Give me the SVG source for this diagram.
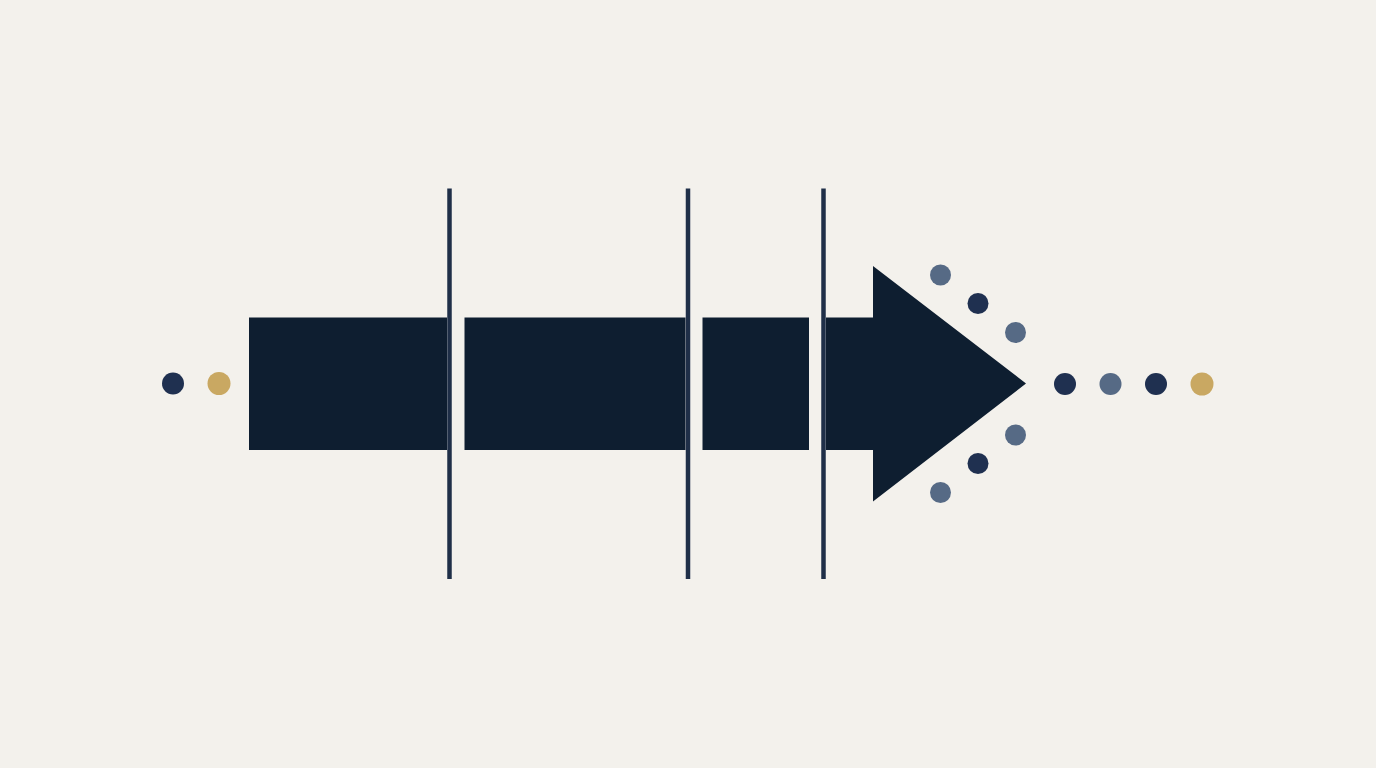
<svg xmlns="http://www.w3.org/2000/svg" width="1376" height="768" viewBox="0 0 1376 768">
<style>
.blk{fill:#0e1e30}
.ln{stroke:#1f2f48;stroke-width:4.5}
.dk{fill:#1f3050}
.gr{fill:#566a85}
.gd{fill:#c9a862}
</style>
<rect width="1376" height="768" fill="#f3f1ec"/>
<g id="blocks">
<rect class="blk" x="249" y="317.5" width="198" height="132.5"/>
<rect class="blk" x="464.5" y="317.5" width="221" height="132.5"/>
<rect class="blk" x="702.5" y="317.5" width="106.5" height="132.5"/>
<polygon class="blk" points="826,317.5 873,317.5 873,266 1026,383.5 873,501.5 873,450 826,450"/>
</g>
<g id="lines">
<line class="ln" x1="449.5" y1="188.5" x2="449.5" y2="579"/>
<line class="ln" x1="688" y1="188.5" x2="688" y2="579"/>
<line class="ln" x1="823.5" y1="188.5" x2="823.5" y2="579"/>
</g>
<g id="dots">
<circle class="dk" cx="173" cy="383.5" r="11"/>
<circle class="gd" cx="219" cy="383.5" r="11.5"/>
<circle class="gr" cx="940.5" cy="275" r="10.5"/>
<circle class="dk" cx="978" cy="303.5" r="10.5"/>
<circle class="gr" cx="1015.5" cy="332.5" r="10.5"/>
<circle class="gr" cx="1015.5" cy="435" r="10.5"/>
<circle class="dk" cx="978" cy="463.5" r="10.5"/>
<circle class="gr" cx="940.5" cy="492.5" r="10.5"/>
<circle class="dk" cx="1065" cy="384" r="11"/>
<circle class="gr" cx="1110.5" cy="384" r="11"/>
<circle class="dk" cx="1156" cy="384" r="11"/>
<circle class="gd" cx="1202" cy="384" r="11.5"/>
</g>
</svg>
